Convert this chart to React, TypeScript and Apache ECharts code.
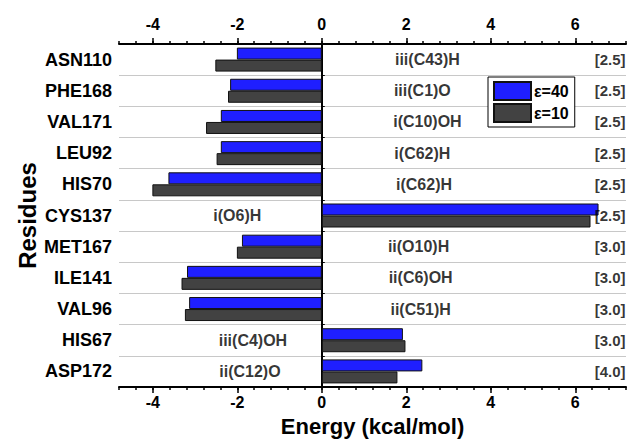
import React, { useEffect, useRef } from "react";
import * as echarts from "echarts";

const categories = ["ASN110", "PHE168", "VAL171", "LEU92", "HIS70", "CYS137", "MET167", "ILE141", "VAL96", "HIS67", "ASP172"];
const eps40 = [-2.01, -2.17, -2.39, -2.39, -3.63, 6.55, -1.89, -3.19, -3.14, 1.92, 2.38];
const eps10 = [-2.52, -2.22, -2.74, -2.49, -4.01, 6.36, -2.01, -3.32, -3.24, 1.98, 1.79];
const annotations = ["iii(C43)H", "iii(C1)O", "i(C10)OH", "i(C62)H", "i(C62)H", "i(O6)H", "ii(O10)H", "ii(C6)OH", "ii(C51)H", "iii(C4)OH", "ii(C12)O"];
const annotationX = [2.5, 2.38, 2.5, 2.38, 2.42, -2.0, 2.29, 2.34, 2.34, -1.63, -1.7];
const cutoffs = ["[2.5]", "[2.5]", "[2.5]", "[2.5]", "[2.5]", "[2.5]", "[3.0]", "[3.0]", "[3.0]", "[3.0]", "[4.0]"];
const xMajorTicks = [-4, -2, 0, 2, 4, 6];
const xMin = -4.8;
const xMax = 7.2;
const xMinorStep = 0.4;

const FONT = "'Liberation Sans', Arial, sans-serif";

export default function App() {
  const ref = useRef<HTMLDivElement>(null);
  useEffect(() => {
    if (!ref.current) return;
    const chart = echarts.init(ref.current, undefined, { renderer: "svg" });
    const minorAxis = (position: string) => ({
      type: "value",
      position,
      min: xMin,
      max: xMax,
      interval: xMinorStep,
      axisLine: { show: true, onZero: false, lineStyle: { color: "#000", width: 2 } },
      axisTick: { show: true, length: 3, lineStyle: { color: "#000", width: 1.5 } },
      axisLabel: { show: false },
      splitLine: { show: false },
    });
    const majorAxis = (position: string, withName: boolean) => ({
      type: "value",
      position,
      min: xMin,
      max: xMax,
      axisLine: { show: false, onZero: false },
      axisTick: { show: true, length: 6, customValues: xMajorTicks, lineStyle: { color: "#000", width: 1.5 } },
      axisLabel: {
        show: true,
        customValues: xMajorTicks,
        margin: position === "top" ? 13 : 9,
        color: "#000",
        fontFamily: FONT,
        fontWeight: "bold",
        fontSize: 16,
        lineHeight: 13,
      },
      splitLine: { show: false },
      name: withName ? "Energy (kcal/mol)" : "",
      nameLocation: "middle",
      nameGap: 29,
      nameMoveOverlap: false,
      nameTextStyle: { color: "#000", fontFamily: FONT, fontWeight: "bold", fontSize: 22, lineHeight: 20 },
    });
    chart.setOption({
      animation: false,
      backgroundColor: "#fff",
      grid: { left: 119, right: 4, top: 44, bottom: 52, containLabel: false, outerBoundsMode: "none" },
      legend: {
        data: ["ε=40", "ε=10"],
        orient: "vertical",
        left: 488,
        top: 77,
        itemWidth: 37,
        itemHeight: 18,
        itemGap: 2,
        padding: [4, 6, 4, 5],
        borderColor: "#000",
        borderWidth: 1,
        backgroundColor: "#fff",
        icon: "rect",
        textStyle: { color: "#000", fontFamily: FONT, fontWeight: "bold", fontSize: 16, padding: [0, 0, 0, -2] },
      },
      xAxis: [minorAxis("bottom"), minorAxis("top"), majorAxis("bottom", true), majorAxis("top", false)],
      yAxis: [
        {
          type: "category",
          data: categories,
          inverse: true,
          position: "left",
          axisLine: { show: false },
          axisTick: { show: false },
          axisLabel: { margin: 7, color: "#000", fontFamily: FONT, fontWeight: "bold", fontSize: 18 },
          splitLine: { show: true, lineStyle: { color: "#c8c8c8", width: 1 } },
          name: "Residues",
          nameLocation: "middle",
          nameGap: 80,
          nameMoveOverlap: false,
          nameTextStyle: { color: "#000", fontFamily: FONT, fontWeight: "bold", fontSize: 24 },
        },
        {
          type: "category",
          data: categories,
          inverse: true,
          axisLine: { show: true, onZero: true, onZeroAxisIndex: 0, lineStyle: { color: "#000", width: 2 } },
          axisTick: { show: true, length: 3, lineStyle: { color: "#000", width: 1 } },
          axisLabel: { show: false },
          splitLine: { show: false },
        },
      ],
      series: [
        {
          name: "ε=40",
          type: "bar",
          xAxisIndex: 0,
          yAxisIndex: 0,
          data: eps40,
          barWidth: 12,
          barGap: "0%",
          itemStyle: { color: "#1f1fff", borderColor: "#111", borderWidth: 1 },
          z: 3,
        },
        {
          name: "ε=10",
          type: "bar",
          xAxisIndex: 0,
          yAxisIndex: 0,
          data: eps10,
          barWidth: 12,
          barGap: "0%",
          itemStyle: { color: "#424242", borderColor: "#111", borderWidth: 1 },
          z: 3,
        },
        {
          name: "annotations",
          type: "scatter",
          xAxisIndex: 0,
          yAxisIndex: 0,
          symbolSize: 1,
          itemStyle: { color: "rgba(0,0,0,0)" },
          data: categories.map((c, i) => [annotationX[i], c]),
          label: {
            show: true,
            position: "inside",
            formatter: (p: any) => annotations[p.dataIndex],
            color: "#000",
            fontFamily: FONT,
            fontWeight: "bold",
            fontSize: 16,
          },
          z: 5,
        },
        {
          name: "cutoffs",
          type: "scatter",
          xAxisIndex: 0,
          yAxisIndex: 0,
          symbolSize: 1,
          itemStyle: { color: "rgba(0,0,0,0)" },
          data: categories.map((c) => [xMax, c]),
          label: {
            show: true,
            position: "left",
            distance: 0,
            formatter: (p: any) => cutoffs[p.dataIndex],
            color: "#000",
            fontFamily: FONT,
            fontWeight: "bold",
            fontSize: 15,
          },
          z: 5,
        },
      ],
    });
    return () => chart.dispose();
  }, []);
  return <div ref={ref} style={{ width: 630, height: 439, position: "absolute", left: 0, top: 0 }} />;
}
